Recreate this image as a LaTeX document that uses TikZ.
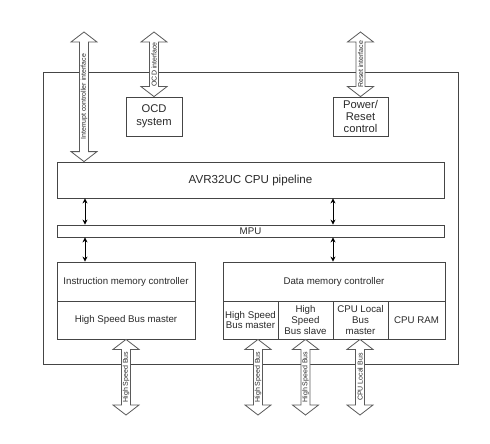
\documentclass[tikz,border=0pt]{standalone}
\usepackage{fontspec}
\setmainfont{Liberation Sans}
\usetikzlibrary{calc,arrows.meta}
\definecolor{linec}{HTML}{454545}
\definecolor{textc}{HTML}{2A2A2A}
\definecolor{arrc}{HTML}{5A5A5A}
\tikzset{
  blk/.style={draw=linec, line width=0.8pt, fill=white, inner sep=0pt, align=center, text=textc, font=\fontsize{9.7}{10.6}\selectfont},
  fatar/.style={draw=arrc, line width=0.8pt, fill=white, line join=miter},
  fatlabel/.style={rotate=90, inner sep=0pt, text=textc, font=\fontsize{7}{8}\selectfont},
  smallar/.style={draw=black, line width=0.8pt, {Stealth[length=5pt,width=5pt]}-{Stealth[length=5pt,width=5pt]}},
}
\newcommand\fatarrow[4]{%
  \path[fatar] let \p1=#1, \p2=#2 in (\x1,\y1) -- (\x1+13pt,\y1-10pt) -- (\x1+4.5pt,\y1-10pt) -- (\x1+4.5pt,\y2+10pt) -- (\x1+13pt,\y2+10pt) -- (\x1,\y2) -- (\x1-13pt,\y2+10pt) -- (\x1-4.5pt,\y2+10pt) -- (\x1-4.5pt,\y1-10pt) -- (\x1-13pt,\y1-10pt) -- cycle;
  \path let \p1=#1, \p2=#2 in node[fatlabel] (#4) at (\x1,{0.5*\y1+0.5*\y2}) {#3};
}
\begin{document}
\begin{tikzpicture}[x=1pt,y=-1pt]
\useasboundingbox (0,0) rectangle (490,444);
% outer chip
\node[draw=linec, line width=0.8pt, minimum width=415pt, minimum height=292pt, inner sep=0pt] (chip) at (250.5,218) {};
% coordinates for free arrow ends
\coordinate (intTop) at (84,32);
\coordinate (ocdTop) at (154,32);
\coordinate (pwrTop) at (360.5,32);
\coordinate (b1) at (126,415);
\coordinate (b2) at (258,415);
\coordinate (b3) at (305.5,415);
\coordinate (b4) at (360,415);
\coordinate (c1) at (85,0);
\coordinate (c2) at (333,0);
% boxes (placed before arrows to get anchors)
\node[blk, minimum width=387pt, minimum height=36pt, font=\fontsize{11.6}{13}\selectfont] (pipe) at (250.5,180) {AVR32UC CPU pipeline};
\node[blk, minimum width=56pt, minimum height=39pt, font=\fontsize{11.2}{12.5}\selectfont] (ocd) at (154,116.5) {OCD\\system};
\node[blk, minimum width=55pt, minimum height=39pt, font=\fontsize{11.2}{11.6}\selectfont] (pwr) at (360.5,116.5) {Power/\\Reset\\control};
\node[blk, minimum width=387pt, minimum height=12pt] (mpu) at (250.5,231) {MPU};
\node[blk, minimum width=138pt, minimum height=39pt] (imc) at (126,281.5) {Instruction memory controller};
\node[blk, minimum width=138pt, minimum height=38pt] (ihs) at (126,320) {High Speed Bus master};
\node[blk, minimum width=222pt, minimum height=39pt] (dmc) at (334,281.5) {Data memory controller};
\node[blk, minimum width=55pt, minimum height=38pt] (dhm) at (250.5,320) {High Speed\\Bus master};
\node[blk, minimum width=55pt, minimum height=38pt] (dhs) at (305.5,320) {High\\Speed\\Bus slave};
\node[blk, minimum width=55pt, minimum height=38pt] (dlb) at (360.5,320) {CPU Local\\Bus\\master};
\node[blk, minimum width=57pt, minimum height=38pt] (ram) at (416.5,320) {CPU RAM};
% fat arrows
\fatarrow{(intTop)}{(pipe.north -| intTop)}{Interrupt controller interface}{lint}
\fatarrow{(ocdTop)}{(ocd.north)}{OCD interface}{locd}
\fatarrow{(pwrTop)}{(pwr.north)}{Reset interface}{lrst}
\fatarrow{(ihs.south)}{(b1)}{High Speed Bus}{lb1}
\fatarrow{(dhm.south -| b2)}{(b2)}{High Speed Bus}{lb2}
\fatarrow{(dhs.south -| b3)}{(b3)}{High Speed Bus}{lb3}
\fatarrow{(dlb.south -| b4)}{(b4)}{CPU Local Bus}{lb4}
% small arrows
\draw[smallar] (pipe.south -| c1) -- (mpu.north -| c1);
\draw[smallar] (mpu.south -| c1) -- (imc.north -| c1);
\draw[smallar] (pipe.south -| c2) -- (mpu.north -| c2);
\draw[smallar] (mpu.south -| c2) -- (dmc.north -| c2);
\end{tikzpicture}
\end{document}
